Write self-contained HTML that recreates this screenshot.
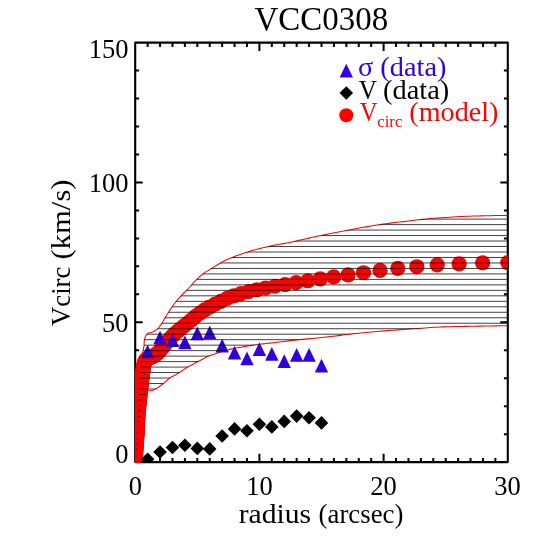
<!DOCTYPE html>
<html><head><meta charset="utf-8"><title>VCC0308</title>
<style>html,body{margin:0;padding:0;background:#fff;}body{width:548px;height:548px;overflow:hidden;font-family:"Liberation Serif",serif;}</style></head>
<body>
<svg width="548" height="548" viewBox="0 0 548 548" style="display:block;will-change:transform;font-family:'Liberation Serif',serif">
<rect width="548" height="548" fill="#fff"/>
<defs><clipPath id="pc"><rect x="135.2" y="42.65" width="372.6" height="420.45"/></clipPath></defs>
<rect x="135.2" y="42.65" width="372.6" height="419.45" fill="none" stroke="#000" stroke-width="2.1" stroke-linejoin="round"/>
<path d="M147.62 462.1v-4.1M147.62 42.65v4.35M160.04 462.1v-4.1M160.04 42.65v4.35M172.46 462.1v-4.1M172.46 42.65v4.35M184.88 462.1v-4.1M184.88 42.65v4.35M197.3 462.1v-4.1M197.3 42.65v4.35M209.72 462.1v-4.1M209.72 42.65v4.35M222.14 462.1v-4.1M222.14 42.65v4.35M234.56 462.1v-4.1M234.56 42.65v4.35M246.98 462.1v-4.1M246.98 42.65v4.35M259.4 462.1v-8.25M259.4 42.65v8.3M271.82 462.1v-4.1M271.82 42.65v4.35M284.24 462.1v-4.1M284.24 42.65v4.35M296.66 462.1v-4.1M296.66 42.65v4.35M309.08 462.1v-4.1M309.08 42.65v4.35M321.5 462.1v-4.1M321.5 42.65v4.35M333.92 462.1v-4.1M333.92 42.65v4.35M346.34 462.1v-4.1M346.34 42.65v4.35M358.76 462.1v-4.1M358.76 42.65v4.35M371.18 462.1v-4.1M371.18 42.65v4.35M383.6 462.1v-8.25M383.6 42.65v8.3M396.02 462.1v-4.1M396.02 42.65v4.35M408.44 462.1v-4.1M408.44 42.65v4.35M420.86 462.1v-4.1M420.86 42.65v4.35M433.28 462.1v-4.1M433.28 42.65v4.35M445.7 462.1v-4.1M445.7 42.65v4.35M458.12 462.1v-4.1M458.12 42.65v4.35M470.54 462.1v-4.1M470.54 42.65v4.35M482.96 462.1v-4.1M482.96 42.65v4.35M495.38 462.1v-4.1M495.38 42.65v4.35M135.2 434.14h3.9M507.8 434.14h-3.9M135.2 406.17h3.9M507.8 406.17h-3.9M135.2 378.21h3.9M507.8 378.21h-3.9M135.2 350.25h3.9M507.8 350.25h-3.9M135.2 322.28h7.5M507.8 322.28h-7.5M135.2 294.32h3.9M507.8 294.32h-3.9M135.2 266.36h3.9M507.8 266.36h-3.9M135.2 238.39h3.9M507.8 238.39h-3.9M135.2 210.43h3.9M507.8 210.43h-3.9M135.2 182.47h7.5M507.8 182.47h-7.5M135.2 154.5h3.9M507.8 154.5h-3.9M135.2 126.54h3.9M507.8 126.54h-3.9M135.2 98.58h3.9M507.8 98.58h-3.9M135.2 70.61h3.9M507.8 70.61h-3.9" stroke="#000" stroke-width="2" fill="none"/>
<g clip-path="url(#pc)">
<circle cx="135.5" cy="457" r="7.6" fill="#ff0000"/>
<circle cx="135.55" cy="456.08" r="7.6" fill="#ff0000"/>
<circle cx="135.6" cy="455.15" r="7.6" fill="#ff0000"/>
<circle cx="135.66" cy="454.06" r="7.6" fill="#ff0000"/>
<circle cx="135.72" cy="453.08" r="7.6" fill="#ff0000"/>
<circle cx="135.78" cy="452.05" r="7.6" fill="#ff0000"/>
<circle cx="135.84" cy="451.02" r="7.6" fill="#ff0000"/>
<circle cx="135.9" cy="450" r="7.6" fill="#ff0000"/>
<circle cx="135.96" cy="449" r="7.6" fill="#ff0000"/>
<circle cx="136.03" cy="447.98" r="7.6" fill="#ff0000"/>
<circle cx="136.1" cy="446.95" r="7.6" fill="#ff0000"/>
<circle cx="136.17" cy="445.88" r="7.6" fill="#ff0000"/>
<circle cx="136.24" cy="444.76" r="7.6" fill="#ff0000"/>
<circle cx="136.31" cy="443.82" r="7.6" fill="#ff0000"/>
<circle cx="136.37" cy="442.84" r="7.6" fill="#ff0000"/>
<circle cx="136.44" cy="441.81" r="7.6" fill="#ff0000"/>
<circle cx="136.52" cy="440.72" r="7.6" fill="#ff0000"/>
<circle cx="136.6" cy="439.53" r="7.6" fill="#ff0000"/>
<circle cx="136.67" cy="438.58" r="7.6" fill="#ff0000"/>
<circle cx="136.74" cy="437.58" r="7.6" fill="#ff0000"/>
<circle cx="136.82" cy="436.55" r="7.6" fill="#ff0000"/>
<circle cx="136.89" cy="435.5" r="7.6" fill="#ff0000"/>
<circle cx="136.97" cy="434.44" r="7.6" fill="#ff0000"/>
<circle cx="137.04" cy="433.38" r="7.6" fill="#ff0000"/>
<circle cx="137.12" cy="432.34" r="7.6" fill="#ff0000"/>
<circle cx="137.19" cy="431.32" r="7.6" fill="#ff0000"/>
<circle cx="137.25" cy="430.34" r="7.6" fill="#ff0000"/>
<circle cx="137.31" cy="429.41" r="7.6" fill="#ff0000"/>
<circle cx="137.38" cy="428.27" r="7.6" fill="#ff0000"/>
<circle cx="137.44" cy="427.25" r="7.6" fill="#ff0000"/>
<circle cx="137.48" cy="426.34" r="7.6" fill="#ff0000"/>
<circle cx="137.52" cy="425.32" r="7.6" fill="#ff0000"/>
<circle cx="137.54" cy="424.39" r="7.6" fill="#ff0000"/>
<circle cx="137.57" cy="423.34" r="7.6" fill="#ff0000"/>
<circle cx="137.6" cy="422.27" r="7.6" fill="#ff0000"/>
<circle cx="137.63" cy="421.3" r="7.6" fill="#ff0000"/>
<circle cx="137.69" cy="420.23" r="7.6" fill="#ff0000"/>
<circle cx="137.74" cy="419.29" r="7.6" fill="#ff0000"/>
<circle cx="137.8" cy="418.32" r="7.6" fill="#ff0000"/>
<circle cx="137.86" cy="417.34" r="7.6" fill="#ff0000"/>
<circle cx="137.93" cy="416.32" r="7.6" fill="#ff0000"/>
<circle cx="138" cy="415.28" r="7.6" fill="#ff0000"/>
<circle cx="138.08" cy="414.2" r="7.6" fill="#ff0000"/>
<circle cx="138.16" cy="413.09" r="7.6" fill="#ff0000"/>
<circle cx="138.26" cy="411.94" r="7.6" fill="#ff0000"/>
<circle cx="138.36" cy="410.75" r="7.6" fill="#ff0000"/>
<circle cx="138.44" cy="409.83" r="7.6" fill="#ff0000"/>
<circle cx="138.53" cy="408.88" r="7.6" fill="#ff0000"/>
<circle cx="138.63" cy="407.89" r="7.6" fill="#ff0000"/>
<circle cx="138.73" cy="406.87" r="7.6" fill="#ff0000"/>
<circle cx="138.84" cy="405.82" r="7.6" fill="#ff0000"/>
<circle cx="138.96" cy="404.74" r="7.6" fill="#ff0000"/>
<circle cx="139.08" cy="403.63" r="7.6" fill="#ff0000"/>
<circle cx="139.21" cy="402.51" r="7.6" fill="#ff0000"/>
<circle cx="139.34" cy="401.38" r="7.6" fill="#ff0000"/>
<circle cx="139.46" cy="400.24" r="7.6" fill="#ff0000"/>
<circle cx="139.59" cy="399.1" r="7.6" fill="#ff0000"/>
<circle cx="139.72" cy="397.96" r="7.6" fill="#ff0000"/>
<circle cx="139.85" cy="396.83" r="7.6" fill="#ff0000"/>
<circle cx="139.98" cy="395.7" r="7.6" fill="#ff0000"/>
<circle cx="140.1" cy="394.6" r="7.6" fill="#ff0000"/>
<circle cx="140.22" cy="393.49" r="7.6" fill="#ff0000"/>
<circle cx="140.34" cy="392.35" r="7.6" fill="#ff0000"/>
<circle cx="140.47" cy="391.19" r="7.6" fill="#ff0000"/>
<circle cx="140.6" cy="390.01" r="7.6" fill="#ff0000"/>
<circle cx="140.72" cy="388.83" r="7.6" fill="#ff0000"/>
<circle cx="140.85" cy="387.66" r="7.6" fill="#ff0000"/>
<circle cx="140.97" cy="386.5" r="7.6" fill="#ff0000"/>
<circle cx="141.1" cy="385.36" r="7.6" fill="#ff0000"/>
<circle cx="141.22" cy="384.26" r="7.6" fill="#ff0000"/>
<circle cx="141.34" cy="383.19" r="7.6" fill="#ff0000"/>
<circle cx="141.45" cy="382.16" r="7.6" fill="#ff0000"/>
<circle cx="141.56" cy="381.19" r="7.6" fill="#ff0000"/>
<circle cx="141.67" cy="380.29" r="7.6" fill="#ff0000"/>
<circle cx="141.8" cy="379.18" r="7.6" fill="#ff0000"/>
<circle cx="141.93" cy="378.18" r="7.6" fill="#ff0000"/>
<circle cx="142.05" cy="377.27" r="7.6" fill="#ff0000"/>
<circle cx="142.19" cy="376.23" r="7.6" fill="#ff0000"/>
<circle cx="142.33" cy="375.28" r="7.6" fill="#ff0000"/>
<circle cx="142.48" cy="374.22" r="7.6" fill="#ff0000"/>
<circle cx="142.63" cy="373.2" r="7.6" fill="#ff0000"/>
<circle cx="142.78" cy="372.17" r="7.6" fill="#ff0000"/>
<circle cx="142.91" cy="371.15" r="7.6" fill="#ff0000"/>
<circle cx="143.01" cy="370.19" r="7.6" fill="#ff0000"/>
<circle cx="143.11" cy="369.28" r="7.6" fill="#ff0000"/>
<circle cx="143.22" cy="368.26" r="7.6" fill="#ff0000"/>
<circle cx="143.36" cy="367.27" r="7.6" fill="#ff0000"/>
<circle cx="143.54" cy="366.28" r="7.6" fill="#ff0000"/>
<circle cx="143.77" cy="365.28" r="7.6" fill="#ff0000"/>
<circle cx="143.99" cy="364.39" r="7.6" fill="#ff0000"/>
<circle cx="144.23" cy="363.51" r="7.6" fill="#ff0000"/>
<circle cx="144.54" cy="362.52" r="7.6" fill="#ff0000"/>
<circle cx="144.89" cy="361.6" r="7.6" fill="#ff0000"/>
<circle cx="145.34" cy="360.7" r="7.6" fill="#ff0000"/>
<circle cx="145.92" cy="359.92" r="7.6" fill="#ff0000"/>
<circle cx="146.64" cy="359.28" r="7.6" fill="#ff0000"/>
<circle cx="147.44" cy="358.78" r="7.6" fill="#ff0000"/>
<circle cx="148.32" cy="358.3" r="7.6" fill="#ff0000"/>
<circle cx="149.18" cy="357.86" r="7.6" fill="#ff0000"/>
<circle cx="150.03" cy="357.52" r="7.6" fill="#ff0000"/>
<circle cx="150.92" cy="357.2" r="7.6" fill="#ff0000"/>
<circle cx="151.82" cy="356.86" r="7.6" fill="#ff0000"/>
<circle cx="152.69" cy="356.46" r="7.6" fill="#ff0000"/>
<circle cx="153.55" cy="355.98" r="7.6" fill="#ff0000"/>
<circle cx="154.41" cy="355.46" r="7.6" fill="#ff0000"/>
<circle cx="154.9" cy="355.14" r="7.6" fill="#ff0000"/>
<circle cx="156.33" cy="354.13" r="7.6" fill="#ff0000"/>
<circle cx="157.86" cy="352.83" r="7.6" fill="#ff0000"/>
<circle cx="159.51" cy="351.11" r="7.6" fill="#ff0000"/>
<circle cx="161.27" cy="349.12" r="7.6" fill="#ff0000"/>
<circle cx="163.16" cy="346.83" r="7.6" fill="#ff0000"/>
<circle cx="165.19" cy="344.31" r="7.6" fill="#ff0000"/>
<circle cx="167.36" cy="341.57" r="7.6" fill="#ff0000"/>
<circle cx="169.69" cy="338.82" r="7.6" fill="#ff0000"/>
<circle cx="172.19" cy="336.1" r="7.6" fill="#ff0000"/>
<circle cx="174.88" cy="333.58" r="7.6" fill="#ff0000"/>
<circle cx="177.75" cy="331.16" r="7.6" fill="#ff0000"/>
<circle cx="180.84" cy="328.69" r="7.6" fill="#ff0000"/>
<circle cx="184.15" cy="325.94" r="7.6" fill="#ff0000"/>
<circle cx="187.7" cy="323.01" r="7.6" fill="#ff0000"/>
<circle cx="191.5" cy="319.79" r="7.6" fill="#ff0000"/>
<circle cx="195.58" cy="316.29" r="7.6" fill="#ff0000"/>
<circle cx="199.96" cy="313.06" r="7.6" fill="#ff0000"/>
<circle cx="204.66" cy="309.89" r="7.6" fill="#ff0000"/>
<circle cx="209.69" cy="307.01" r="7.6" fill="#ff0000"/>
<circle cx="215.09" cy="304.22" r="7.6" fill="#ff0000"/>
<circle cx="220.88" cy="301.29" r="7.6" fill="#ff0000"/>
<circle cx="227.1" cy="298.38" r="7.6" fill="#ff0000"/>
<circle cx="233.76" cy="295.81" r="7.6" fill="#ff0000"/>
<circle cx="240.9" cy="293.66" r="7.6" fill="#ff0000"/>
<circle cx="248.57" cy="291.71" r="7.6" fill="#ff0000"/>
<circle cx="256.79" cy="289.77" r="7.6" fill="#ff0000"/>
<circle cx="265.6" cy="287.99" r="7.6" fill="#ff0000"/>
<circle cx="275.06" cy="286.24" r="7.6" fill="#ff0000"/>
<circle cx="285.2" cy="284.56" r="7.6" fill="#ff0000"/>
<circle cx="296.07" cy="282.69" r="7.6" fill="#ff0000"/>
<circle cx="307.73" cy="280.76" r="7.6" fill="#ff0000"/>
<circle cx="320.24" cy="278.94" r="7.6" fill="#ff0000"/>
<circle cx="333.66" cy="276.92" r="7.6" fill="#ff0000"/>
<circle cx="348.05" cy="274.92" r="7.6" fill="#ff0000"/>
<circle cx="363.48" cy="272.73" r="7.6" fill="#ff0000"/>
<circle cx="380.03" cy="270.35" r="7.6" fill="#ff0000"/>
<circle cx="397.78" cy="268.36" r="7.6" fill="#ff0000"/>
<circle cx="416.81" cy="266.73" r="7.6" fill="#ff0000"/>
<circle cx="437.23" cy="264.89" r="7.6" fill="#ff0000"/>
<circle cx="459.13" cy="263.9" r="7.6" fill="#ff0000"/>
<circle cx="482.61" cy="262.9" r="7.6" fill="#ff0000"/>
<circle cx="507.8" cy="262.6" r="7.6" fill="#ff0000"/>
<path d="M135.5 461.5 L135.54 460.51 L135.59 459.25 L135.65 457.76 L135.72 456.06 L135.8 454.21 L135.89 452.22 L135.99 450.14 L136.1 448 L136.22 445.74 L136.36 443.29 L136.52 440.7 L136.68 438.01 L136.85 435.25 L137.01 432.47 L137.16 429.7 L137.3 427 L137.43 424.26 L137.55 421.39 L137.66 418.48 L137.77 415.57 L137.88 412.75 L137.98 410.07 L138.09 407.6 L138.2 405.4 L138.31 403.52 L138.43 401.9 L138.54 400.49 L138.66 399.23 L138.77 398.05 L138.88 396.89 L138.99 395.7 L139.1 394.4 L139.2 393.03 L139.3 391.67 L139.4 390.31 L139.5 388.95 L139.6 387.59 L139.7 386.23 L139.8 384.87 L139.9 383.5 L140.01 382.14 L140.14 380.81 L140.27 379.47 L140.39 378.14 L140.52 376.78 L140.63 375.4 L140.73 373.98 L140.8 372.5 L140.84 370.91 L140.85 369.2 L140.83 367.42 L140.81 365.63 L140.8 363.87 L140.8 362.21 L140.83 360.7 L140.9 359.4 L141.02 358.34 L141.18 357.47 L141.36 356.76 L141.56 356.14 L141.78 355.56 L141.99 354.98 L142.2 354.35 L142.4 353.6 L142.59 352.76 L142.79 351.88 L143 350.97 L143.2 350.04 L143.4 349.1 L143.58 348.16 L143.75 347.22 L143.9 346.3 L144.01 345.38 L144.08 344.43 L144.12 343.48 L144.16 342.54 L144.21 341.61 L144.29 340.7 L144.41 339.83 L144.6 339 L144.85 338.2 L145.14 337.4 L145.46 336.62 L145.82 335.87 L146.21 335.17 L146.62 334.53 L147.05 333.97 L147.5 333.5 L147.97 333.16 L148.46 332.96 L148.98 332.84 L149.52 332.79 L150.08 332.74 L150.67 332.68 L151.27 332.54 L151.9 332.3 L152.57 331.97 L153.28 331.6 L154.03 331.19 L154.8 330.74 L155.57 330.25 L156.32 329.73 L157.03 329.18 L157.7 328.6 L158.32 327.99 L158.9 327.33 L159.45 326.64 L159.99 325.93 L160.51 325.18 L161.03 324.4 L161.56 323.61 L162.1 322.8 L162.63 321.98 L163.13 321.17 L163.62 320.33 L164.12 319.47 L164.64 318.57 L165.2 317.62 L165.81 316.6 L166.5 315.5 L167.27 314.29 L168.12 312.96 L169.03 311.54 L169.97 310.09 L170.94 308.62 L171.91 307.18 L172.87 305.79 L173.8 304.5 L174.71 303.29 L175.62 302.13 L176.54 301.01 L177.45 299.92 L178.36 298.86 L179.28 297.82 L180.19 296.8 L181.1 295.8 L182.01 294.83 L182.92 293.9 L183.84 293 L184.75 292.11 L185.66 291.23 L186.57 290.35 L187.49 289.44 L188.4 288.5 L189.31 287.51 L190.22 286.49 L191.14 285.45 L192.05 284.4 L192.96 283.36 L193.88 282.33 L194.79 281.34 L195.7 280.4 L196.61 279.5 L197.53 278.62 L198.45 277.76 L199.37 276.92 L200.28 276.12 L201.2 275.35 L202.1 274.61 L203 273.9 L203.87 273.25 L204.7 272.67 L205.51 272.14 L206.32 271.63 L207.16 271.12 L208.04 270.6 L208.98 270.03 L210 269.4 L211.11 268.7 L212.31 267.94 L213.56 267.15 L214.86 266.33 L216.18 265.51 L217.5 264.71 L218.82 263.93 L220.1 263.2 L221.29 262.53 L222.39 261.91 L223.45 261.33 L224.53 260.76 L225.69 260.18 L226.98 259.57 L228.46 258.92 L230.2 258.2 L232.23 257.4 L234.5 256.52 L236.97 255.6 L239.57 254.65 L242.26 253.7 L244.96 252.78 L247.63 251.9 L250.2 251.1 L252.71 250.37 L255.23 249.67 L257.75 249.01 L260.27 248.39 L262.79 247.79 L265.3 247.21 L267.81 246.65 L270.3 246.1 L272.85 245.57 L275.48 245.05 L278.14 244.56 L280.78 244.08 L283.34 243.63 L285.77 243.2 L288 242.79 L290 242.4 L291.65 242.06 L292.95 241.78 L294.02 241.53 L294.98 241.29 L295.94 241.05 L297.02 240.79 L298.33 240.48 L300 240.1 L301.96 239.66 L304.08 239.19 L306.36 238.67 L308.79 238.13 L311.39 237.56 L314.14 236.96 L317.04 236.34 L320.1 235.7 L323.38 235.02 L326.92 234.29 L330.65 233.53 L334.52 232.75 L338.47 231.96 L342.43 231.18 L346.36 230.42 L350.2 229.7 L354.04 228.99 L357.99 228.28 L361.98 227.57 L365.96 226.88 L369.85 226.22 L373.59 225.59 L377.13 225.02 L380.4 224.5 L383.29 224.06 L385.8 223.71 L388.06 223.4 L390.21 223.14 L392.35 222.88 L394.61 222.62 L397.12 222.34 L400 222 L403.26 221.61 L406.79 221.18 L410.52 220.73 L414.39 220.27 L418.35 219.81 L422.33 219.37 L426.27 218.96 L430.1 218.6 L433.9 218.27 L437.77 217.97 L441.65 217.69 L445.53 217.44 L449.35 217.2 L453.1 216.98 L456.72 216.78 L460.2 216.6 L463.51 216.44 L466.67 216.31 L469.71 216.19 L472.68 216.1 L475.58 216.02 L478.47 215.94 L481.37 215.87 L484.3 215.8 L487.41 215.73 L490.73 215.66 L494.12 215.6 L497.46 215.55 L500.6 215.5 L503.43 215.46 L505.81 215.43 L507.6 215.4" stroke="#ff0000" stroke-width="1.05" fill="none"/>
<path d="M135.5 461.5 L135.62 460.43 L135.79 458.99 L135.99 457.27 L136.21 455.38 L136.44 453.4 L136.65 451.45 L136.85 449.61 L137 448 L137.11 446.59 L137.2 445.28 L137.26 444.04 L137.32 442.84 L137.37 441.67 L137.43 440.49 L137.5 439.27 L137.6 438 L137.72 436.67 L137.86 435.32 L138.01 433.95 L138.16 432.56 L138.32 431.17 L138.49 429.77 L138.65 428.38 L138.8 427 L138.95 425.62 L139.08 424.24 L139.22 422.86 L139.36 421.47 L139.5 420.1 L139.65 418.72 L139.82 417.36 L140 416 L140.21 414.62 L140.45 413.2 L140.7 411.77 L140.96 410.36 L141.22 408.98 L141.47 407.68 L141.7 406.48 L141.9 405.4 L142.06 404.47 L142.19 403.67 L142.29 402.96 L142.39 402.33 L142.48 401.74 L142.59 401.16 L142.73 400.55 L142.9 399.9 L143.1 399.2 L143.32 398.48 L143.55 397.75 L143.8 397.02 L144.07 396.32 L144.36 395.63 L144.67 394.99 L145 394.4 L145.37 393.84 L145.78 393.31 L146.21 392.8 L146.67 392.32 L147.13 391.88 L147.58 391.5 L148 391.17 L148.4 390.9 L148.75 390.73 L149.06 390.65 L149.34 390.65 L149.62 390.69 L149.91 390.74 L150.22 390.78 L150.58 390.77 L151 390.7 L151.47 390.59 L151.96 390.47 L152.48 390.34 L153.03 390.18 L153.63 389.98 L154.26 389.73 L154.95 389.4 L155.7 389 L156.53 388.49 L157.44 387.89 L158.42 387.22 L159.43 386.49 L160.46 385.73 L161.48 384.96 L162.47 384.21 L163.4 383.5 L164.27 382.81 L165.09 382.11 L165.89 381.4 L166.67 380.7 L167.46 380 L168.26 379.32 L169.11 378.65 L170 378 L170.93 377.39 L171.89 376.81 L172.87 376.26 L173.87 375.72 L174.91 375.17 L175.97 374.59 L177.07 373.97 L178.2 373.3 L179.37 372.57 L180.56 371.78 L181.79 370.96 L183.05 370.11 L184.34 369.25 L185.66 368.39 L187.02 367.53 L188.4 366.7 L189.85 365.87 L191.38 365.02 L192.95 364.17 L194.55 363.32 L196.14 362.49 L197.7 361.69 L199.2 360.92 L200.6 360.2 L201.85 359.54 L202.93 358.95 L203.93 358.39 L204.9 357.86 L205.92 357.34 L207.07 356.8 L208.4 356.22 L210 355.6 L211.88 354.91 L213.99 354.16 L216.27 353.39 L218.69 352.59 L221.18 351.81 L223.69 351.05 L226.18 350.34 L228.6 349.7 L231.01 349.12 L233.49 348.58 L236 348.07 L238.51 347.6 L240.98 347.16 L243.37 346.75 L245.66 346.36 L247.8 346 L249.78 345.67 L251.62 345.39 L253.35 345.14 L255.01 344.92 L256.62 344.71 L258.22 344.51 L259.83 344.31 L261.5 344.1 L263.15 343.89 L264.74 343.7 L266.29 343.51 L267.86 343.33 L269.47 343.14 L271.17 342.94 L273 342.73 L275 342.5 L277.09 342.25 L279.19 342 L281.36 341.75 L283.66 341.48 L286.12 341.19 L288.79 340.88 L291.74 340.55 L295 340.2 L298.76 339.8 L303.05 339.36 L307.69 338.89 L312.5 338.41 L317.31 337.92 L321.95 337.45 L326.24 337 L330 336.6 L333.15 336.25 L335.82 335.93 L338.15 335.64 L340.3 335.36 L342.41 335.09 L344.63 334.81 L347.11 334.52 L350 334.2 L353.25 333.85 L356.72 333.48 L360.36 333.1 L364.16 332.71 L368.07 332.31 L372.07 331.93 L376.12 331.56 L380.2 331.2 L384.42 330.86 L388.87 330.52 L393.46 330.19 L398.09 329.87 L402.68 329.56 L407.14 329.26 L411.38 328.97 L415.3 328.7 L418.85 328.44 L422.08 328.2 L425.09 327.96 L427.97 327.74 L430.81 327.53 L433.7 327.34 L436.73 327.16 L440 327 L443.44 326.86 L446.95 326.75 L450.53 326.66 L454.19 326.58 L457.96 326.51 L461.84 326.44 L465.85 326.38 L470 326.3 L474.59 326.22 L479.75 326.13 L485.2 326.04 L490.68 325.96 L495.92 325.88 L500.67 325.81 L504.65 325.75 L507.6 325.7" stroke="#ff0000" stroke-width="1.05" fill="none"/>
<path d="M147.62 344.65L140.92 358.35L154.32 358.35Z" fill="#3300de"/>
<path d="M160.04 330.65L153.34 344.35L166.74 344.35Z" fill="#3300de"/>
<path d="M172.46 333.35L165.76 347.05L179.16 347.05Z" fill="#3300de"/>
<path d="M184.88 335.55L178.18 349.25L191.58 349.25Z" fill="#3300de"/>
<path d="M197.3 326.45L190.6 340.15L204 340.15Z" fill="#3300de"/>
<path d="M209.72 325.45L203.02 339.15L216.42 339.15Z" fill="#3300de"/>
<path d="M222.14 338.85L215.44 352.55L228.84 352.55Z" fill="#3300de"/>
<path d="M234.56 345.75L227.86 359.45L241.26 359.45Z" fill="#3300de"/>
<path d="M246.98 351.55L240.28 365.25L253.68 365.25Z" fill="#3300de"/>
<path d="M259.4 342.25L252.7 355.95L266.1 355.95Z" fill="#3300de"/>
<path d="M271.82 347.05L265.12 360.75L278.52 360.75Z" fill="#3300de"/>
<path d="M284.24 354.35L277.54 368.05L290.94 368.05Z" fill="#3300de"/>
<path d="M296.66 347.95L289.96 361.65L303.36 361.65Z" fill="#3300de"/>
<path d="M309.08 347.95L302.38 361.65L315.78 361.65Z" fill="#3300de"/>
<path d="M321.5 358.75L314.8 372.45L328.2 372.45Z" fill="#3300de"/>
<path d="M147.62 452.5L154.42 459.3L147.62 466.1L140.82 459.3Z" fill="#000"/>
<path d="M160.04 445.2L166.84 452L160.04 458.8L153.24 452Z" fill="#000"/>
<path d="M172.46 440.7L179.26 447.5L172.46 454.3L165.66 447.5Z" fill="#000"/>
<path d="M184.88 438.5L191.68 445.3L184.88 452.1L178.08 445.3Z" fill="#000"/>
<path d="M197.3 441.6L204.1 448.4L197.3 455.2L190.5 448.4Z" fill="#000"/>
<path d="M209.72 442.1L216.52 448.9L209.72 455.7L202.92 448.9Z" fill="#000"/>
<path d="M222.14 429.2L228.94 436L222.14 442.8L215.34 436Z" fill="#000"/>
<path d="M234.56 422.1L241.36 428.9L234.56 435.7L227.76 428.9Z" fill="#000"/>
<path d="M246.98 423.9L253.78 430.7L246.98 437.5L240.18 430.7Z" fill="#000"/>
<path d="M259.4 417.5L266.2 424.3L259.4 431.1L252.6 424.3Z" fill="#000"/>
<path d="M271.82 420.1L278.62 426.9L271.82 433.7L265.02 426.9Z" fill="#000"/>
<path d="M284.24 414.6L291.04 421.4L284.24 428.2L277.44 421.4Z" fill="#000"/>
<path d="M296.66 409.3L303.46 416.1L296.66 422.9L289.86 416.1Z" fill="#000"/>
<path d="M309.08 411L315.88 417.8L309.08 424.6L302.28 417.8Z" fill="#000"/>
<path d="M321.5 416.1L328.3 422.9L321.5 429.7L314.7 422.9Z" fill="#000"/>
<clipPath id="hc"><path d="M135.5 461.5 L135.54 460.51 L135.59 459.25 L135.65 457.76 L135.72 456.06 L135.8 454.21 L135.89 452.22 L135.99 450.14 L136.1 448 L136.22 445.74 L136.36 443.29 L136.52 440.7 L136.68 438.01 L136.85 435.25 L137.01 432.47 L137.16 429.7 L137.3 427 L137.43 424.26 L137.55 421.39 L137.66 418.48 L137.77 415.57 L137.88 412.75 L137.98 410.07 L138.09 407.6 L138.2 405.4 L138.31 403.52 L138.43 401.9 L138.54 400.49 L138.66 399.23 L138.77 398.05 L138.88 396.89 L138.99 395.7 L139.1 394.4 L139.2 393.03 L139.3 391.67 L139.4 390.31 L139.5 388.95 L139.6 387.59 L139.7 386.23 L139.8 384.87 L139.9 383.5 L140.01 382.14 L140.14 380.81 L140.27 379.47 L140.39 378.14 L140.52 376.78 L140.63 375.4 L140.73 373.98 L140.8 372.5 L140.84 370.91 L140.85 369.2 L140.83 367.42 L140.81 365.63 L140.8 363.87 L140.8 362.21 L140.83 360.7 L140.9 359.4 L141.02 358.34 L141.18 357.47 L141.36 356.76 L141.56 356.14 L141.78 355.56 L141.99 354.98 L142.2 354.35 L142.4 353.6 L142.59 352.76 L142.79 351.88 L143 350.97 L143.2 350.04 L143.4 349.1 L143.58 348.16 L143.75 347.22 L143.9 346.3 L144.01 345.38 L144.08 344.43 L144.12 343.48 L144.16 342.54 L144.21 341.61 L144.29 340.7 L144.41 339.83 L144.6 339 L144.85 338.2 L145.14 337.4 L145.46 336.62 L145.82 335.87 L146.21 335.17 L146.62 334.53 L147.05 333.97 L147.5 333.5 L147.97 333.16 L148.46 332.96 L148.98 332.84 L149.52 332.79 L150.08 332.74 L150.67 332.68 L151.27 332.54 L151.9 332.3 L152.57 331.97 L153.28 331.6 L154.03 331.19 L154.8 330.74 L155.57 330.25 L156.32 329.73 L157.03 329.18 L157.7 328.6 L158.32 327.99 L158.9 327.33 L159.45 326.64 L159.99 325.93 L160.51 325.18 L161.03 324.4 L161.56 323.61 L162.1 322.8 L162.63 321.98 L163.13 321.17 L163.62 320.33 L164.12 319.47 L164.64 318.57 L165.2 317.62 L165.81 316.6 L166.5 315.5 L167.27 314.29 L168.12 312.96 L169.03 311.54 L169.97 310.09 L170.94 308.62 L171.91 307.18 L172.87 305.79 L173.8 304.5 L174.71 303.29 L175.62 302.13 L176.54 301.01 L177.45 299.92 L178.36 298.86 L179.28 297.82 L180.19 296.8 L181.1 295.8 L182.01 294.83 L182.92 293.9 L183.84 293 L184.75 292.11 L185.66 291.23 L186.57 290.35 L187.49 289.44 L188.4 288.5 L189.31 287.51 L190.22 286.49 L191.14 285.45 L192.05 284.4 L192.96 283.36 L193.88 282.33 L194.79 281.34 L195.7 280.4 L196.61 279.5 L197.53 278.62 L198.45 277.76 L199.37 276.92 L200.28 276.12 L201.2 275.35 L202.1 274.61 L203 273.9 L203.87 273.25 L204.7 272.67 L205.51 272.14 L206.32 271.63 L207.16 271.12 L208.04 270.6 L208.98 270.03 L210 269.4 L211.11 268.7 L212.31 267.94 L213.56 267.15 L214.86 266.33 L216.18 265.51 L217.5 264.71 L218.82 263.93 L220.1 263.2 L221.29 262.53 L222.39 261.91 L223.45 261.33 L224.53 260.76 L225.69 260.18 L226.98 259.57 L228.46 258.92 L230.2 258.2 L232.23 257.4 L234.5 256.52 L236.97 255.6 L239.57 254.65 L242.26 253.7 L244.96 252.78 L247.63 251.9 L250.2 251.1 L252.71 250.37 L255.23 249.67 L257.75 249.01 L260.27 248.39 L262.79 247.79 L265.3 247.21 L267.81 246.65 L270.3 246.1 L272.85 245.57 L275.48 245.05 L278.14 244.56 L280.78 244.08 L283.34 243.63 L285.77 243.2 L288 242.79 L290 242.4 L291.65 242.06 L292.95 241.78 L294.02 241.53 L294.98 241.29 L295.94 241.05 L297.02 240.79 L298.33 240.48 L300 240.1 L301.96 239.66 L304.08 239.19 L306.36 238.67 L308.79 238.13 L311.39 237.56 L314.14 236.96 L317.04 236.34 L320.1 235.7 L323.38 235.02 L326.92 234.29 L330.65 233.53 L334.52 232.75 L338.47 231.96 L342.43 231.18 L346.36 230.42 L350.2 229.7 L354.04 228.99 L357.99 228.28 L361.98 227.57 L365.96 226.88 L369.85 226.22 L373.59 225.59 L377.13 225.02 L380.4 224.5 L383.29 224.06 L385.8 223.71 L388.06 223.4 L390.21 223.14 L392.35 222.88 L394.61 222.62 L397.12 222.34 L400 222 L403.26 221.61 L406.79 221.18 L410.52 220.73 L414.39 220.27 L418.35 219.81 L422.33 219.37 L426.27 218.96 L430.1 218.6 L433.9 218.27 L437.77 217.97 L441.65 217.69 L445.53 217.44 L449.35 217.2 L453.1 216.98 L456.72 216.78 L460.2 216.6 L463.51 216.44 L466.67 216.31 L469.71 216.19 L472.68 216.1 L475.58 216.02 L478.47 215.94 L481.37 215.87 L484.3 215.8 L487.41 215.73 L490.73 215.66 L494.12 215.6 L497.46 215.55 L500.6 215.5 L503.43 215.46 L505.81 215.43 L507.6 215.4 L507.6 325.7 L504.65 325.75 L500.67 325.81 L495.92 325.88 L490.68 325.96 L485.2 326.04 L479.75 326.13 L474.59 326.22 L470 326.3 L465.85 326.38 L461.84 326.44 L457.96 326.51 L454.19 326.58 L450.53 326.66 L446.95 326.75 L443.44 326.86 L440 327 L436.73 327.16 L433.7 327.34 L430.81 327.53 L427.97 327.74 L425.09 327.96 L422.08 328.2 L418.85 328.44 L415.3 328.7 L411.38 328.97 L407.14 329.26 L402.68 329.56 L398.09 329.87 L393.46 330.19 L388.87 330.52 L384.42 330.86 L380.2 331.2 L376.12 331.56 L372.07 331.93 L368.07 332.31 L364.16 332.71 L360.36 333.1 L356.72 333.48 L353.25 333.85 L350 334.2 L347.11 334.52 L344.63 334.81 L342.41 335.09 L340.3 335.36 L338.15 335.64 L335.82 335.93 L333.15 336.25 L330 336.6 L326.24 337 L321.95 337.45 L317.31 337.92 L312.5 338.41 L307.69 338.89 L303.05 339.36 L298.76 339.8 L295 340.2 L291.74 340.55 L288.79 340.88 L286.12 341.19 L283.66 341.48 L281.36 341.75 L279.19 342 L277.09 342.25 L275 342.5 L273 342.73 L271.17 342.94 L269.47 343.14 L267.86 343.33 L266.29 343.51 L264.74 343.7 L263.15 343.89 L261.5 344.1 L259.83 344.31 L258.22 344.51 L256.62 344.71 L255.01 344.92 L253.35 345.14 L251.62 345.39 L249.78 345.67 L247.8 346 L245.66 346.36 L243.37 346.75 L240.98 347.16 L238.51 347.6 L236 348.07 L233.49 348.58 L231.01 349.12 L228.6 349.7 L226.18 350.34 L223.69 351.05 L221.18 351.81 L218.69 352.59 L216.27 353.39 L213.99 354.16 L211.88 354.91 L210 355.6 L208.4 356.22 L207.07 356.8 L205.92 357.34 L204.9 357.86 L203.93 358.39 L202.93 358.95 L201.85 359.54 L200.6 360.2 L199.2 360.92 L197.7 361.69 L196.14 362.49 L194.55 363.32 L192.95 364.17 L191.38 365.02 L189.85 365.87 L188.4 366.7 L187.02 367.53 L185.66 368.39 L184.34 369.25 L183.05 370.11 L181.79 370.96 L180.56 371.78 L179.37 372.57 L178.2 373.3 L177.07 373.97 L175.97 374.59 L174.91 375.17 L173.87 375.72 L172.87 376.26 L171.89 376.81 L170.93 377.39 L170 378 L169.11 378.65 L168.26 379.32 L167.46 380 L166.67 380.7 L165.89 381.4 L165.09 382.11 L164.27 382.81 L163.4 383.5 L162.47 384.21 L161.48 384.96 L160.46 385.73 L159.43 386.49 L158.42 387.22 L157.44 387.89 L156.53 388.49 L155.7 389 L154.95 389.4 L154.26 389.73 L153.63 389.98 L153.03 390.18 L152.48 390.34 L151.96 390.47 L151.47 390.59 L151 390.7 L150.58 390.77 L150.22 390.78 L149.91 390.74 L149.62 390.69 L149.34 390.65 L149.06 390.65 L148.75 390.73 L148.4 390.9 L148 391.17 L147.58 391.5 L147.13 391.88 L146.67 392.32 L146.21 392.8 L145.78 393.31 L145.37 393.84 L145 394.4 L144.67 394.99 L144.36 395.63 L144.07 396.32 L143.8 397.02 L143.55 397.75 L143.32 398.48 L143.1 399.2 L142.9 399.9 L142.73 400.55 L142.59 401.16 L142.48 401.74 L142.39 402.33 L142.29 402.96 L142.19 403.67 L142.06 404.47 L141.9 405.4 L141.7 406.48 L141.47 407.68 L141.22 408.98 L140.96 410.36 L140.7 411.77 L140.45 413.2 L140.21 414.62 L140 416 L139.82 417.36 L139.65 418.72 L139.5 420.1 L139.36 421.47 L139.22 422.86 L139.08 424.24 L138.95 425.62 L138.8 427 L138.65 428.38 L138.49 429.77 L138.32 431.17 L138.16 432.56 L138.01 433.95 L137.86 435.32 L137.72 436.67 L137.6 438 L137.5 439.27 L137.43 440.49 L137.37 441.67 L137.32 442.84 L137.26 444.04 L137.2 445.28 L137.11 446.59 L137 448 L136.85 449.61 L136.65 451.45 L136.44 453.4 L136.21 455.38 L135.99 457.27 L135.79 458.99 L135.62 460.43 L135.5 461.5 Z"/></clipPath>
<g clip-path="url(#hc)"><path d="M130 202.68H512M130 208.16H512M130 213.64H512M130 219.12H512M130 224.6H512M130 230.08H512M130 235.56H512M130 241.04H512M130 246.52H512M130 252H512M130 257.48H512M130 262.96H512M130 268.44H512M130 273.92H512M130 279.4H512M130 284.88H512M130 290.36H512M130 295.84H512M130 301.32H512M130 306.8H512M130 312.28H512M130 317.76H512M130 323.24H512M130 328.72H512M130 334.2H512M130 339.68H512M130 345.16H512M130 350.64H512M130 356.12H512M130 361.6H512M130 367.08H512M130 372.56H512M130 378.04H512M130 383.52H512M130 389H512M130 394.48H512M130 399.96H512M130 405.44H512M130 410.92H512M130 416.4H512M130 421.88H512M130 427.36H512M130 432.84H512M130 438.32H512M130 443.8H512M130 449.28H512M130 454.76H512M130 460.24H512M130 465.72H512" stroke="#000" stroke-width="0.75" fill="none"/></g>
</g>
<text x="254.5" y="29.5" font-size="34.5" text-anchor="start" fill="#000" textLength="133.6" lengthAdjust="spacingAndGlyphs">VCC0308</text>
<text x="128.5" y="58" font-size="26.5" text-anchor="end" fill="#000">150</text>
<text x="128.5" y="191.8" font-size="26.5" text-anchor="end" fill="#000">100</text>
<text x="128.5" y="332" font-size="26.5" text-anchor="end" fill="#000">50</text>
<text x="128.5" y="462.6" font-size="26.5" text-anchor="end" fill="#000">0</text>
<text x="135.4" y="495" font-size="26.5" text-anchor="middle" fill="#000">0</text>
<text x="259.6" y="495" font-size="26.5" text-anchor="middle" fill="#000">10</text>
<text x="383.6" y="495" font-size="26.5" text-anchor="middle" fill="#000">20</text>
<text x="507.4" y="495" font-size="26.5" text-anchor="middle" fill="#000">30</text>
<text x="238.7" y="522.7" font-size="27.5" text-anchor="start" fill="#000" textLength="72.4" lengthAdjust="spacingAndGlyphs">radius</text>
<text x="318.6" y="522.7" font-size="27.5" text-anchor="start" fill="#000" textLength="84.8" lengthAdjust="spacingAndGlyphs">(arcsec)</text>
<g transform="translate(69.9 326) rotate(-90)">
<text x="0.1" y="0" font-size="27.5" text-anchor="start" fill="#000" textLength="59.2" lengthAdjust="spacingAndGlyphs">Vcirc</text>
<text x="66.4" y="0" font-size="27.5" text-anchor="start" fill="#000" textLength="80.2" lengthAdjust="spacingAndGlyphs">(km/s)</text>
</g>
<path d="M346.3 63.8L339.6 77.5L353 77.5Z" fill="#3300de"/>
<text x="358" y="76.2" font-size="27" text-anchor="start" fill="#3300de" textLength="88.4" lengthAdjust="spacingAndGlyphs">σ (data)</text>
<path d="M346.3 86.2L353.1 93L346.3 99.8L339.5 93Z" fill="#000"/>
<text x="358.7" y="98.9" font-size="27" text-anchor="start" fill="#000" textLength="18.2" lengthAdjust="spacingAndGlyphs">V</text>
<text x="383" y="98.9" font-size="27" text-anchor="start" fill="#000" textLength="66.2" lengthAdjust="spacingAndGlyphs">(data)</text>
<circle cx="346.3" cy="115.2" r="7" fill="#ff0000"/>
<text x="359.7" y="120.8" font-size="27" text-anchor="start" fill="#ff0000" textLength="17.8" lengthAdjust="spacingAndGlyphs">V</text>
<text x="377.3" y="127" font-size="17.5" text-anchor="start" fill="#ff0000" textLength="25" lengthAdjust="spacingAndGlyphs">circ</text>
<text x="409.3" y="120.8" font-size="27" text-anchor="start" fill="#ff0000" textLength="89.1" lengthAdjust="spacingAndGlyphs">(model)</text>
</svg>
</body></html>
